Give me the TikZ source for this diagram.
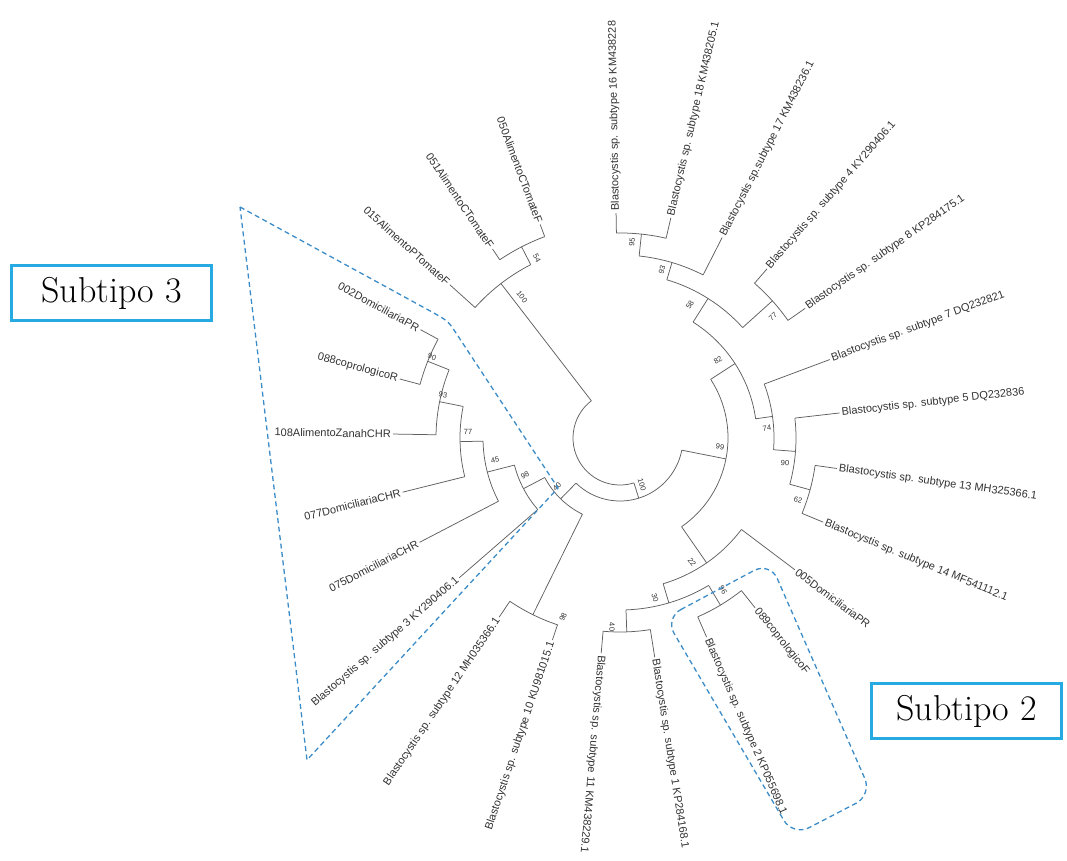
\documentclass[tikz,border=0pt]{standalone}
\usepackage{fontspec}
\newfontfamily\labelfont{Liberation Sans}
\definecolor{treegray}{RGB}{95,95,95}
\definecolor{textgray}{RGB}{50,50,50}
\definecolor{boxcyan}{RGB}{38,170,225}
\definecolor{grpblue}{RGB}{60,140,200}
\tikzset{
  branch/.style={treegray, line width=0.75pt},
  leaf/.style={font=\labelfont\fontsize{11}{13}\selectfont, text=textgray, inner sep=2pt},
  boot/.style={font=\labelfont\fontsize{7.5}{8}\selectfont, text=textgray, inner sep=0pt},
  subbox/.style={draw=boxcyan, line width=2.6pt, minimum width=200pt, minimum height=55pt, font=\fontsize{36}{40}\selectfont},
  grp/.style={grpblue, line width=1.3pt, dash pattern=on 5pt off 3.5pt},
}
\newcommand{\leafout}[5]{%
  \node[leaf, rotate=#2, anchor=west] (#1) at (#2:#4) {#5};
  \draw[branch] (#2:#3) -- (#1.west);}
\newcommand{\leafin}[5]{%
  \node[leaf, rotate=#2+180, anchor=east] (#1) at (#2:#4) {#5};
  \draw[branch] (#2:#3) -- (#1.east);}
\newcommand{\clade}[5]{%
  \pgfmathsetmacro\cmid{(#2+#3)/2}
  \coordinate (#1) at (\cmid:#4);
  \coordinate (#1-p) at (\cmid:#5);
  \draw[branch] (#1-p) -- (#1);
  \draw[branch] (#2:#4) arc[start angle=#2, end angle=#3, radius=#4];}
\begin{document}
\begin{tikzpicture}[x=1pt, y=1pt]
\useasboundingbox (0,0) rectangle (1067,861);
\begin{scope}[shift={(620,423)}]
\leafout{L1}{91}{205}{225}{Blastocystis sp. subtype 16 KM438228}
\leafout{L2}{77}{205}{226}{Blastocystis sp. subtype 18 KM438205.1}
\leafout{L3}{63}{183}{225}{Blastocystis sp.subtype 17 KM438236.1}
\leafout{L4}{49}{205}{224}{Blastocystis sp. subtype 4 KY290406.1}
\leafout{L5}{35}{205}{226}{Blastocystis sp. subtype 8 KP284175.1}
\leafout{L6}{20.5}{154}{224}{Blastocystis sp. subtype 7 DQ232821}
\leafout{L7}{6.5}{176}{221}{Blastocystis sp. subtype 5 DQ232836}
\leafout{L8}{-8}{197}{219}{Blastocystis sp. subtype 13 MH325366.1}
\leafout{L9}{-22.5}{197}{220}{Blastocystis sp. subtype 14 MF541112.1}
\leafout{L10}{-37}{152}{219}{005DomiciliariaPR}
\leafout{L11}{-51.5}{195}{217}{089coprologicoF}
\leafout{L12}{-66.5}{195}{217}{Blastocystis sp. subtype 2 KP055698.1}
\leafout{L13}{-81}{194}{222}{Blastocystis sp. subtype 1 KP284168.1}
\leafout{L14}{-95}{194}{216}{Blastocystis sp. subtype 11 KM438229.1}
\leafin{L15}{-108.5}{197}{213}{Blastocystis sp. subtype 10 KU981015.1}
\leafin{L16}{-124}{197}{216}{Blastocystis sp. subtype 12 MH035366.1}
\leafin{L17}{221}{109}{213}{Blastocystis sp. subtype 3 KY290406.1}
\leafin{L18}{207.5}{137}{226}{075DomiciliariaCHR}
\leafin{L19}{194}{160}{224}{077DomiciliariaCHR}
\leafin{L20}{179}{184}{227}{108AlimentoZanahCHR}
\leafin{L21}{165}{207}{228}{088coprologicoR}
\leafin{L22}{151.5}{207}{227}{002DomiciliariaPR}
\leafin{L23}{138}{195}{229}{015AlimentoPTomateF}
\leafin{L24}{124}{215}{228}{051AlimentoCTomateF}
\leafin{L25}{110.5}{215}{228}{050AlimentoCTomateF}
\clade{nA1}{91}{77}{205}{183}
\clade{nA2}{84}{63}{183}{165}
\clade{nA3}{49}{35}{205}{165}
\clade{nA4}{73.5}{42}{165}{137}
\clade{nB3}{-8}{-22.5}{197}{176}
\clade{nB2}{6.5}{-15.25}{176}{154}
\clade{nB}{20.5}{-4.375}{154}{137}
\clade{n82}{57.75}{8.0625}{137}{108}
\clade{n96}{-51.5}{-66.5}{195}{172}
\clade{n40b}{-81}{-95}{194}{172}
\clade{n30}{-59}{-88}{172}{152}
\clade{n22}{-37}{-73.5}{152}{108}
\clade{n99}{32.906}{-55.25}{108}{63}
\clade{nC}{251.5}{236}{197}{85}
\clade{s90}{165}{151.5}{207}{184}
\clade{s93}{179}{158.25}{184}{160}
\clade{s77}{194}{168.625}{160}{137}
\clade{s45}{207.5}{181.31}{137}{109}
\clade{s98}{221}{194.41}{109}{85}
\clade{n40}{243.75}{207.70}{85}{63}
\clade{n100}{225.73}{348.83}{63}{47}
\clade{t54}{110.5}{124}{215}{195}
\clade{t100}{117.25}{138}{195}{47}
\coordinate (root) at (207:47);
\draw[branch] (127.625:47) arc[start angle=127.625, end angle=287.28, radius=47];
\end{scope}
\node[boot, rotate=84] (b95) at (632,619) {95};
\node[boot, rotate=73.5] (b93) at (662,591) {93};
\node[boot, rotate=58] (b58) at (690,556) {58};
\node[boot, rotate=42] (b77) at (773,544) {77};
\node[boot, rotate=33] (b82) at (718,501) {82};
\node[boot, rotate=8] (b74) at (767,433) {74};
\node[boot, rotate=-4] (b90) at (785,398) {90};
\node[boot, rotate=-15] (b62) at (798,361) {62};
\node[boot, rotate=-11] (b99) at (720,414) {99};
\node[boot, rotate=-73] (b100) at (642,376) {100};
\node[boot, rotate=-55] (b22) at (692,299) {22};
\node[boot, rotate=-73.5] (b30) at (655,263) {30};
\node[boot, rotate=-59] (b96) at (723,271) {96};
\node[boot, rotate=-88] (b40) at (612,234) {40};
\node[boot, rotate=64] (b98) at (563,244) {98};
\node[boot, rotate=46] (c40) at (557,374) {40};
\node[boot, rotate=28] (c98) at (525,386) {98};
\node[boot, rotate=14] (c45) at (495,401) {45};
\node[boot, rotate=1] (c77) at (468,429) {77};
\node[boot, rotate=-11] (c93) at (443,466) {93};
\node[boot, rotate=-22] (c90) at (432,504) {90};
\node[boot, rotate=-63] (t54l) at (537,603) {54};
\node[boot, rotate=-52] (t100l) at (522,564) {100};
\draw[grp] (240,654) -- (432,549) .. controls (448,540) .. (456,528) -- (558,373) -- (307,101) -- cycle;
\draw[grp, rounded corners=18pt] (665,243) -- (770,299) -- (872,66) -- (793,25) -- cycle;
\node[subbox] (st3) at (111.5,568) {Subtipo 3};
\node[subbox, minimum width=190pt] (st2) at (966.5,150) {Subtipo 2};
\end{tikzpicture}
\end{document}
